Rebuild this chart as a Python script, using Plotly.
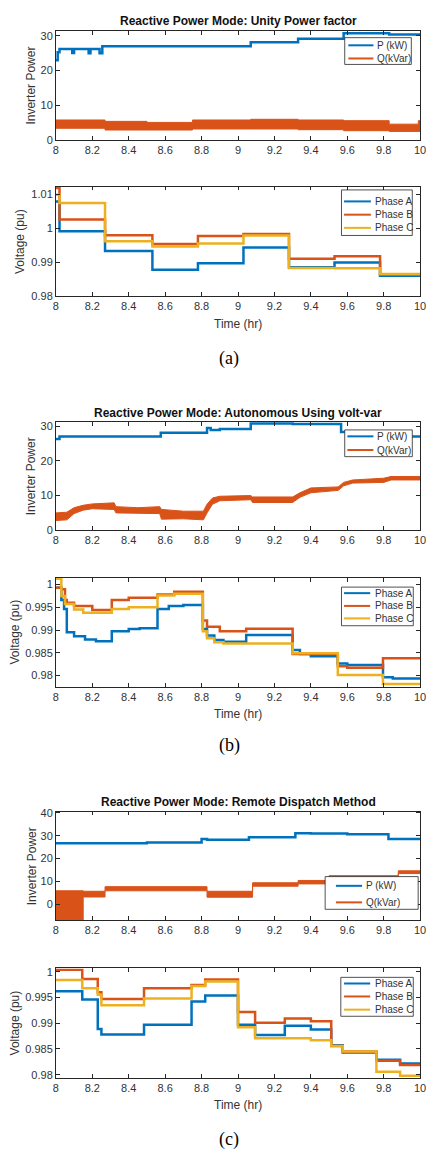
import plotly.graph_objects as go

W, H = 432, 1155
BLUE, ORANGE, YELLOW = '#0072BD', '#D95319', '#EDB120'
AXC = '#262626'
TXT = '#333333'

time_ticks = [8, 8.2, 8.4, 8.6, 8.8, 9, 9.2, 9.4, 9.6, 9.8, 10]
time_tick_labels = ['8', '8.2', '8.4', '8.6', '8.8', '9', '9.2', '9.4', '9.6', '9.8', '10']

# ---------------- (a) Unity power factor ----------------
unity_p_t = [8.00, 8.01, 8.02, 8.09, 8.10, 8.18, 8.19, 8.24, 8.255, 9.07, 9.33, 9.58, 9.83, 10.00]
unity_p_kw = [23.0, 25.3, 26.2, 25.1, 26.2, 25.0, 26.2, 25.0, 27.0, 28.2, 29.2, 30.8, 30.4, 30.4]
unity_q_t = [8.00, 8.27, 8.50, 8.75, 9.07, 9.33, 9.58, 9.83, 9.99, 10.00]
unity_q_low = [3.3, 2.8, 2.8, 3.1, 3.1, 2.9, 2.6, 2.4, 2.4, 2.4]
unity_q_high = [5.7, 5.3, 5.0, 5.7, 5.9, 5.7, 5.5, 4.5, 5.5, 5.5]

unity_v_t = [8.00, 8.02, 8.27, 8.53, 8.78, 9.03, 9.28, 9.53, 9.78, 10.00]
unity_va = [1.0078, 0.9991, 0.9933, 0.9878, 0.9897, 0.9943, 0.9885, 0.9899, 0.9860, 0.9860]
unity_vb = [1.0118, 1.0025, 0.9979, 0.9953, 0.9977, 0.9983, 0.9910, 0.9917, 0.9863, 0.9863]
unity_vc = [1.0098, 1.0074, 0.9961, 0.9946, 0.9955, 0.9978, 0.9883, 0.9882, 0.9865, 0.9865]

# ---------------- (b) Autonomous volt-var ----------------
auto_p_t = [8.00, 8.02, 8.576, 8.83, 8.85, 8.90, 9.07, 9.30, 9.566, 9.60, 10.00]
auto_p_kw = [26.3, 27.0, 28.1, 29.5, 28.9, 29.2, 30.8, 30.6, 28.3, 27.0, 27.0]
auto_q_t = [8.00, 8.06, 8.10, 8.15, 8.20, 8.32, 8.33, 8.45, 8.57, 8.58, 8.70, 8.81, 8.83, 8.86,
            8.90, 9.07, 9.08, 9.30, 9.34, 9.40, 9.55, 9.58, 9.63, 9.80, 9.84, 10.00]
auto_q_low = [2.8, 3.0, 4.8, 5.8, 6.2, 6.0, 5.0, 4.8, 4.8, 3.2, 3.3, 3.0, 5.0, 7.5,
              8.5, 8.8, 8.0, 8.0, 9.5, 10.8, 11.5, 12.8, 13.6, 13.8, 14.5, 14.5]
auto_q_high = [5.0, 5.2, 6.5, 7.2, 7.6, 7.9, 6.8, 6.5, 6.8, 6.0, 5.5, 5.5, 7.5, 9.3,
               9.8, 10.0, 9.6, 9.6, 10.8, 12.2, 12.5, 13.8, 14.5, 15.0, 15.5, 15.5]

auto_va_t = [8.00, 8.03, 8.045, 8.06, 8.10, 8.16, 8.22, 8.307, 8.40, 8.46, 8.558, 8.62, 8.70,
             8.807, 8.83, 8.87, 8.92, 9.045, 9.30, 9.34, 9.40, 9.548, 9.60, 9.796, 9.85, 10.00]
auto_va = [0.9993, 0.9966, 0.9946, 0.9895, 0.9886, 0.9879, 0.9875, 0.9897, 0.9902, 0.9904, 0.9946,
           0.9953, 0.9955, 0.9902, 0.9888, 0.9878, 0.9874, 0.9889, 0.9856, 0.9847, 0.9842, 0.9826,
           0.9823, 0.9796, 0.9793, 0.9792]
auto_vb_t = [8.00, 8.03, 8.05, 8.06, 8.10, 8.20, 8.307, 8.40, 8.558, 8.65, 8.807, 8.83, 8.90,
             9.045, 9.30, 9.548, 9.60, 9.796, 10.00]
auto_vb = [0.9993, 0.9990, 0.9966, 0.9960, 0.9953, 0.9944, 0.9966, 0.9971, 0.9978, 0.9984, 0.9921,
           0.9907, 0.9897, 0.9903, 0.9847, 0.9820, 0.9817, 0.9838, 0.9838]
auto_vc_t = [8.00, 8.03, 8.05, 8.10, 8.15, 8.307, 8.40, 8.558, 8.65, 8.807, 8.83, 8.87, 8.92,
             9.30, 9.548, 9.796, 10.00]
auto_vc = [1.0013, 0.9975, 0.9957, 0.9945, 0.9938, 0.9946, 0.9950, 0.9976, 0.9980, 0.9897, 0.9882,
           0.9873, 0.9870, 0.9849, 0.9801, 0.9781, 0.9781]

# ---------------- (c) Remote dispatch ----------------
remote_p_t = [8.00, 8.50, 8.80, 8.83, 9.06, 9.315, 9.40, 9.60, 9.826, 10.00]
remote_p_kw = [26.7, 27.0, 28.6, 28.2, 29.3, 31.0, 30.9, 30.6, 28.5, 28.5]
remote_q_t = [8.00, 8.15, 8.27, 8.83, 9.08, 9.33, 9.50, 9.88, 10.00]
remote_q_low = [-10.0, 3.3, 6.0, 3.2, 8.0, 9.0, 11.0, 13.5, 13.5]
remote_q_high = [6.0, 5.8, 7.8, 5.8, 9.5, 10.5, 12.6, 14.7, 14.7]

remote_v_t = [8.00, 8.145, 8.23, 8.25, 8.484, 8.745, 8.82, 9.00, 9.094, 9.257, 9.40, 9.512,
              9.575, 9.76, 9.89, 10.00]
remote_va = [0.9962, 0.9946, 0.9889, 0.9878, 0.9897, 0.9942, 0.9954, 0.9897, 0.9877, 0.9895,
             0.9888, 0.9857, 0.9843, 0.9829, 0.9822, 0.9822]
remote_vb = [1.0004, 0.9986, 0.9960, 0.9947, 0.9968, 0.9974, 0.9985, 0.9922, 0.9901, 0.9909,
             0.9904, 0.9856, 0.9845, 0.9827, 0.9819, 0.9819]
remote_vc = [0.9984, 0.9968, 0.9955, 0.9935, 0.9948, 0.9972, 0.9981, 0.9892, 0.9871, 0.9871,
             0.9867, 0.9856, 0.9845, 0.9806, 0.9798, 0.9798]

titles = ['Reactive Power Mode: Unity Power factor',
          'Reactive Power Mode: Autonomous Using volt-var',
          'Reactive Power Mode: Remote Dispatch Method']
captions = ['(a)', '(b)', '(c)']

# ---------------- layout helpers ----------------
X0, X1 = 54, 426


def px(x):
    return x / W


def py(y):
    return 1 - y / H


fig = go.Figure()
layout = dict(width=W, height=H, autosize=False, margin=dict(l=0, r=0, t=0, b=0),
              paper_bgcolor='white', plot_bgcolor='white', showlegend=False,
              shapes=[], annotations=[])

axis_style = dict(showline=True, linecolor=AXC, linewidth=0.8, mirror='ticks', ticks='inside',
                  ticklen=4, tickcolor=AXC, tickwidth=0.8, showgrid=False, zeroline=False,
                  ticklabeloverflow='allow',
                  tickfont=dict(family='Liberation Sans, Arial', size=11, color=TXT))

panels = [
    # top, bottom, yrange, yticks, yticklabels, ylabel, ylabel_x
    (26, 136, [0, 31.5], [0, 10, 20, 30], ['0', '10', '20', '30'], 'Inverter Power', 29),
    (183.3, 294, [0.98, 1.0122], [0.98, 0.99, 1.0, 1.01], ['0.98', '0.99', '1', '1.01'], 'Voltage (pu)', 18),
    (420.7, 530.3, [0, 31.3], [0, 10, 20, 30], ['0', '10', '20', '30'], 'Inverter Power', 29),
    (578.3, 688.3, [0.9775, 1.0015], [0.98, 0.985, 0.99, 0.995, 1.0],
     ['0.98', '0.985', '0.99', '0.995', '1'], 'Voltage (pu)', 12.5),
    (814.3, 924, [-6.8, 40.5], [0, 10, 20, 30, 40], ['0', '10', '20', '30', '40'], 'Inverter Power', 29),
    (972.7, 1083.3, [0.97937, 1.00063], [0.98, 0.985, 0.99, 0.995, 1.0],
     ['0.98', '0.985', '0.99', '0.995', '1'], 'Voltage (pu)', 12.5),
]

for i, (top, bot, yr, yt, ytl, ylab, ylx) in enumerate(panels):
    n = '' if i == 0 else str(i + 1)
    layout['xaxis' + n] = dict(axis_style, domain=[px(X0), px(X1)], range=[8, 10],
                               tickvals=time_ticks, ticktext=time_tick_labels,
                               anchor='y' + n)
    layout['yaxis' + n] = dict(axis_style, domain=[py(bot), py(top)], range=yr,
                               tickvals=yt, ticktext=ytl, anchor='x' + n)
    layout['annotations'].append(dict(text=ylab, x=px(ylx), y=py((top + bot) / 2), xref='paper',
                                      yref='paper', textangle=-90, showarrow=False,
                                      xanchor='center', yanchor='middle',
                                      font=dict(family='Liberation Sans, Arial', size=12, color=TXT)))

# titles
for ttl, ytitle in zip(titles, [15.7, 411.7, 804.3]):
    layout['annotations'].append(dict(text='<b>' + ttl + '</b>', x=px((X0 + X1) / 2), y=py(ytitle),
                                      xref='paper', yref='paper', showarrow=False,
                                      xanchor='center', yanchor='middle',
                                      font=dict(family='Liberation Sans, Arial', size=12, color='#111111')))
# x labels and captions
for yl, yc, cap in zip([321.7, 716, 1111], [357, 748, 1145], captions):
    layout['annotations'].append(dict(text='Time (hr)', x=px((X0 + X1) / 2), y=py(yl), xref='paper',
                                      yref='paper', showarrow=False, xanchor='center', yanchor='middle',
                                      font=dict(family='Liberation Sans, Arial', size=12, color=TXT)))
    layout['annotations'].append(dict(text=cap, x=px(231), y=py(yc), xref='paper', yref='paper',
                                      showarrow=False, xanchor='center', yanchor='middle',
                                      font=dict(family='Liberation Serif, Times New Roman', size=18,
                                                color='black')))


def line(ax, t, v, color, name, width=2.5):
    n = '' if ax == 1 else str(ax)
    fig.add_trace(go.Scatter(x=t, y=v, mode='lines', name=name, line=dict(color=color, width=width, shape='hv'),
                             xaxis='x' + n, yaxis='y' + n, showlegend=False))


def band(ax, t, lo, hi, color, name, shape='hv'):
    n = '' if ax == 1 else str(ax)
    fig.add_trace(go.Scatter(x=t, y=lo, mode='lines', line=dict(color=color, width=1, shape=shape),
                             xaxis='x' + n, yaxis='y' + n, showlegend=False, hoverinfo='skip'))
    fig.add_trace(go.Scatter(x=t, y=hi, mode='lines', name=name, fill='tonexty', fillcolor=color,
                             line=dict(color=color, width=1, shape=shape),
                             xaxis='x' + n, yaxis='y' + n, showlegend=False))


# panel (a)
line(1, unity_p_t, unity_p_kw, BLUE, 'P (kW)')
band(1, unity_q_t, unity_q_low, unity_q_high, ORANGE, 'Q(kVar)')
line(2, unity_v_t, unity_va, BLUE, 'Phase A')
line(2, unity_v_t, unity_vb, ORANGE, 'Phase B')
line(2, unity_v_t, unity_vc, YELLOW, 'Phase C')
# panel (b)
line(3, auto_p_t, auto_p_kw, BLUE, 'P (kW)')
band(3, auto_q_t, auto_q_low, auto_q_high, ORANGE, 'Q(kVar)', shape='linear')
line(4, auto_va_t, auto_va, BLUE, 'Phase A')
line(4, auto_vb_t, auto_vb, ORANGE, 'Phase B')
line(4, auto_vc_t, auto_vc, YELLOW, 'Phase C')
# panel (c)
line(5, remote_p_t, remote_p_kw, BLUE, 'P (kW)')
band(5, remote_q_t, remote_q_low, remote_q_high, ORANGE, 'Q(kVar)')
line(6, remote_v_t, remote_va, BLUE, 'Phase A')
line(6, remote_v_t, remote_vb, ORANGE, 'Phase B')
line(6, remote_v_t, remote_vc, YELLOW, 'Phase C')

# legends drawn as boxes: (box l, t, r, b, line x0, x1, text x, rows y, entries)
pq = [('P (kW)', BLUE), ('Q(kVar)', ORANGE)]
ph = [('Phase A', BLUE), ('Phase B', ORANGE), ('Phase C', YELLOW)]
legends = [
    (349, 33, 417, 60, 352.7, 378.3, 380, [40.7, 54], pq),
    (345.7, 186.7, 418, 232.7, 348.3, 375.7, 377.7, [198.3, 211.7, 225], ph),
    (349, 429, 418, 456, 351.7, 378.3, 380, [435.5, 449.3], pq),
    (345.7, 587.7, 419, 626.7, 348.3, 375, 377.7, [593.8, 606.7, 619.3], ph),
    (329, 880, 424, 913, 340, 366.7, 368.7, [889.3, 906], pq),
    (345, 981.7, 419, 1021, 348.3, 375, 377.7, [987.9, 1001, 1014.3], ph),
]
for (l, t, r, b, lx0, lx1, tx, rows, entries) in legends:
    layout['shapes'].append(dict(type='rect', xref='paper', yref='paper', x0=px(l), x1=px(r),
                                 y0=py(b), y1=py(t), line=dict(color=AXC, width=0.8),
                                 fillcolor='white', layer='above'))
    for yrow, (name, col) in zip(rows, entries):
        layout['shapes'].append(dict(type='line', xref='paper', yref='paper', x0=px(lx0), x1=px(lx1),
                                     y0=py(yrow), y1=py(yrow), line=dict(color=col, width=2),
                                     layer='above'))
        layout['annotations'].append(dict(text=name, x=px(tx), y=py(yrow), xref='paper', yref='paper',
                                          showarrow=False, xanchor='left', yanchor='middle',
                                          font=dict(family='Liberation Sans, Arial', size=10, color=TXT)))

fig.update_layout(**layout)
fig.write_html('out.html',
               config={'displayModeBar': False},
               post_script="document.body.style.margin='0';document.body.style.padding='0';"
                           "document.documentElement.style.overflow='hidden';"
                           "document.body.style.overflow='hidden';")
